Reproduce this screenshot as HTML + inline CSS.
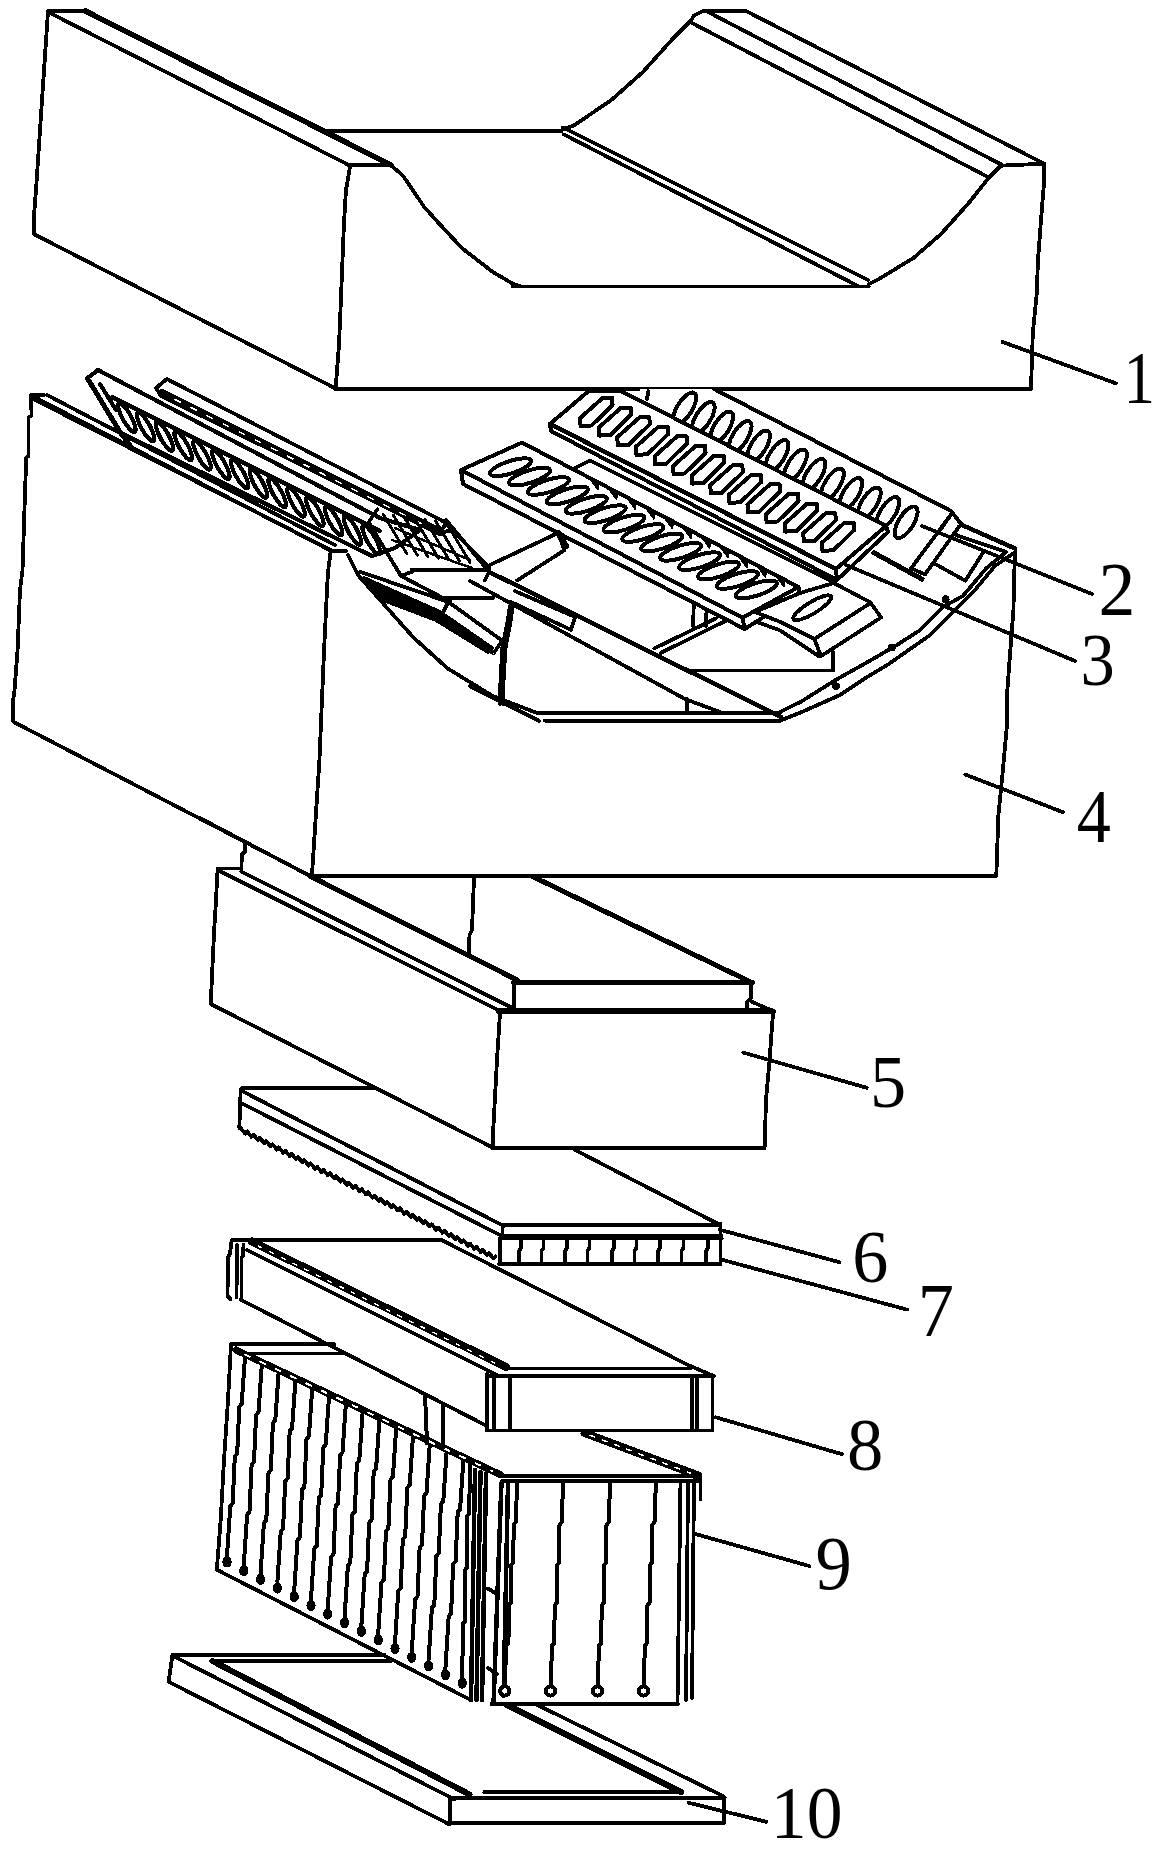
<!DOCTYPE html>
<html><head><meta charset="utf-8"><style>
html,body{margin:0;padding:0;background:#fff;}
svg{display:block;}
text{font-family:"Liberation Serif",serif;font-size:75px;fill:#000;}
</style></head><body>
<svg width="1162" height="1852" viewBox="0 0 1162 1852" shape-rendering="crispEdges">
<rect width="1162" height="1852" fill="#fff"/>
<g fill="none" stroke="#000" stroke-width="3.8" stroke-linejoin="round" stroke-linecap="round">
<g id="b1">
<path d="M48,11 L36,190 L34,216 L33.7,234 L335.6,388.5"/>
<path d="M48,11 H85.4"/>
<path d="M48,12 L348.7,165"/>
<path d="M85.4,11 L391,165" stroke-width="5.5"/>
<path d="M348.7,165.3 H391"/>
<path d="M350,167 L346,190 L344,222.7 L341,298 L339,345 L335.6,389"/>
<path d="M335.6,389 H1031"/>
<path d="M1044.2,164 L1044,183 L1041,220 L1038,260 L1036.7,294 L1032.8,333 L1031,389"/>
<path d="M1006.4,165.4 L1044.2,163.7"/>
<path d="M391,165.4 L403,175.7 L424,206.7 L437.7,222 L461.8,248 L492.8,272 L513.4,284 L520,286"/>
<path d="M513,286.5 H868.7"/>
<path d="M327.5,131 H561.6"/>
<path d="M563.4,129 L573.8,125.6 L611.6,99.8 L642.6,72.3 L673.6,37.9 L690.8,20.7 L694,15.5 L702.9,11 H745.9"/>
<path d="M745.9,11 L1044.2,163.7"/>
<path d="M708,12 L1003,165.4"/>
<path d="M690.8,22.4 L989,177.5"/>
<path d="M1003,165.4 L999.5,167 L989,177.5 L968.5,203.3 L941,234 L913.4,258 L879,279 L868.7,284.2"/>
<path d="M563,127.5 L868,280"/>
<path d="M564,134.5 L858,286"/>
<path d="M1002.4,341.9 L1116,383.4"/>
</g>
<g id="b4">
<path d="M31,395 H44"/>
<path d="M31,395 L31.6,415.6 L28.5,417.2 L28.5,456 L26.2,458 L24.5,508.5 L22.5,570 L20,590 L17.6,650 L14.5,690 L13.2,700 L13.2,721.7 L310.5,876"/>
<path d="M34,399.4 L330.7,550"/>
<path d="M330.7,551 H346"/>
<path d="M330.7,551 L328,572 L327,590 L324,651.5 L319.5,759 L312,875"/>
<path d="M311,875.8 H996"/>
<path d="M1015.6,551 L1014.5,565.8 L1013.4,611 L1010.2,651.9 L1007,694.9 L1007,725 L1002.9,770 L998.4,815 L996.3,875.8"/>
<path d="M965.2,774.5 L1063,812.2"/>
<path d="M1015.6,552 L995.1,565.8 L973.6,591.6 L952.1,613.1 L930.6,634.7 L909.1,649.7 L887.6,664.8 L866.1,677.7 L840.2,694.9 L801.5,712.1 L780,720.7"/>
<path d="M1006,552 L986.5,568 L962.9,596 L943.5,606.7 L919.8,630.4 L896.2,645.4 L870.4,660.5 L835.9,679.8 L801.5,701.4 L780,712.1"/>
<path d="M348,555 L358.5,575.7 L386,606.7 L413.6,637.7 L448,668.7 L492.8,696 L537.5,713.2 L780,713.2"/>
<path d="M545,720.7 H780"/>
<circle cx="945.7" cy="599.2" r="2" fill="#000"/><circle cx="891.9" cy="647.6" r="2" fill="#000"/><circle cx="836" cy="686.3" r="2" fill="#000"/>
</g>
<!-- PLATES RIGHT -->
<g id="cavity">
<path d="M489,571.8 L781,717" stroke-width="4.5"/>
<path d="M470,581 L685,699 L720,712"/>
<path d="M687,699 V713"/>
<path d="M509.8,606.7 L507.6,621.8 L502.3,647.6 L500,690.6 L500,704"/>
<path d="M512.5,607 L510.5,622 L505.5,648 L503,691 L503,704"/>

<path d="M515,591.1 L575.3,617 L571,629.8 L510.7,601.9"/>
<path d="M689,670.5 H833 V652"/>
<path d="M654.1,648.5 L716,618.4 M661,652.8 L727.2,620.1"/>
<path d="M693.8,604.5 L693,626 M706.7,604 L706,626"/>
<path d="M470,686.3 L538.8,720.7"/>
</g>
<g id="backplate" fill="#fff" stroke-width="4">
<path d="M640,389 L714,389 L951,511 L962,525 L925,574.5 L911,568 L880,540 L640,405 Z" stroke="none"/>
<path d="M714,389 L951,511 L962,525 M951.4,514 L940,530"/>
<path d="M648.4,391.2 L646.9,399"/>
<ellipse cx="684.7" cy="408.3" rx="18" ry="7.5" transform="rotate(-58 684.7 408.3)"/>
<ellipse cx="703.2" cy="417.8" rx="18" ry="7.5" transform="rotate(-58 703.2 417.8)"/>
<ellipse cx="721.6" cy="427.3" rx="18" ry="7.5" transform="rotate(-58 721.6 427.3)"/>
<ellipse cx="740.1" cy="436.8" rx="18" ry="7.5" transform="rotate(-58 740.1 436.8)"/>
<ellipse cx="758.5" cy="446.3" rx="18" ry="7.5" transform="rotate(-58 758.5 446.3)"/>
<ellipse cx="777.0" cy="455.8" rx="18" ry="7.5" transform="rotate(-58 777.0 455.8)"/>
<ellipse cx="795.4" cy="465.3" rx="18" ry="7.5" transform="rotate(-58 795.4 465.3)"/>
<ellipse cx="813.9" cy="474.8" rx="18" ry="7.5" transform="rotate(-58 813.9 474.8)"/>
<ellipse cx="832.3" cy="484.3" rx="18" ry="7.5" transform="rotate(-58 832.3 484.3)"/>
<ellipse cx="850.8" cy="493.8" rx="18" ry="7.5" transform="rotate(-58 850.8 493.8)"/>
<ellipse cx="869.2" cy="503.3" rx="18" ry="7.5" transform="rotate(-58 869.2 503.3)"/>
<ellipse cx="887.7" cy="512.8" rx="18" ry="7.5" transform="rotate(-58 887.7 512.8)"/>
<ellipse cx="906.1" cy="522.3" rx="18" ry="7.5" transform="rotate(-58 906.1 522.3)"/>
</g>
<g id="plate2" fill="#fff" stroke-width="4">
<path d="M550,424 L588,391.5 L620,390.5 L886,526 L836,569 Z"/>
<path d="M550,424 L836,569 L837,580 L551,431 Z"/>
<path d="M550,424 L836,569" stroke-width="4.5"/>
<path d="M886,526 L888,532 L837,580 L836,569 Z"/>
<path d="M602.6,398.0 L612.1,398.0 L612.6,405.0 L591.6,425.5 L580.6,426.0 L580.1,418.0 Z"/>
<path d="M621.2,407.6 L630.7,407.6 L631.2,414.6 L610.2,435.1 L599.2,435.6 L598.7,427.6 Z"/>
<path d="M639.8,417.2 L649.3,417.2 L649.8,424.2 L628.8,444.7 L617.8,445.2 L617.3,437.2 Z"/>
<path d="M658.4,426.8 L667.9,426.8 L668.4,433.8 L647.4,454.3 L636.4,454.8 L635.9,446.8 Z"/>
<path d="M677.0,436.4 L686.5,436.4 L687.0,443.4 L666.0,463.9 L655.0,464.4 L654.5,456.4 Z"/>
<path d="M695.6,446.0 L705.1,446.0 L705.6,453.0 L684.6,473.5 L673.6,474.0 L673.1,466.0 Z"/>
<path d="M714.2,455.6 L723.7,455.6 L724.2,462.6 L703.2,483.1 L692.2,483.6 L691.7,475.6 Z"/>
<path d="M732.8,465.2 L742.3,465.2 L742.8,472.2 L721.8,492.7 L710.8,493.2 L710.3,485.2 Z"/>
<path d="M751.4,474.8 L760.9,474.8 L761.4,481.8 L740.4,502.3 L729.4,502.8 L728.9,494.8 Z"/>
<path d="M770.0,484.4 L779.5,484.4 L780.0,491.4 L759.0,511.9 L748.0,512.4 L747.5,504.4 Z"/>
<path d="M788.6,494.0 L798.1,494.0 L798.6,501.0 L777.6,521.5 L766.6,522.0 L766.1,514.0 Z"/>
<path d="M807.2,503.6 L816.7,503.6 L817.2,510.6 L796.2,531.1 L785.2,531.6 L784.7,523.6 Z"/>
<path d="M825.8,513.2 L835.3,513.2 L835.8,520.2 L814.8,540.7 L803.8,541.2 L803.3,533.2 Z"/>
<path d="M844.4,522.8 L853.9,522.8 L854.4,529.8 L833.4,550.3 L822.4,550.8 L821.9,542.8 Z"/>
</g>
<g id="p2bracket">
<path d="M874,552.8 L922,579.1" stroke-width="5"/>
<path d="M951.4,514 L911.1,568.3 L925,574.5"/>
<path d="M959.1,526.5 L925,574.5"/>
<path d="M934.4,563.6 L965.3,580.7"/>
<path d="M983.9,551.3 L965.3,580.7"/>
<path d="M962,525 L1015,548.5" stroke-width="4.5"/>
<path d="M956,535 L1006,552"/>
</g><g id="strip">
<path d="M590,460.5 L835,583"/>
<path d="M575,468 L590,460.5"/>
</g>
<g id="plate3" fill="#fff" stroke-width="4">
<path d="M461,470 L522,442.6 L798.5,587 L742.5,617.7 Z"/>
<path d="M461,470 L742.5,617.7 L744.7,629 L463,484 Z"/>
<path d="M798.5,587 L800,594 L744.7,629 L742.5,617.7 Z"/>
<ellipse cx="510.6" cy="467.2" rx="21.5" ry="6.2" transform="rotate(-18 510.6 467.2)"/>
<ellipse cx="529.5" cy="476.6" rx="21.5" ry="6.2" transform="rotate(-18 529.5 476.6)"/>
<ellipse cx="548.4" cy="486.0" rx="21.5" ry="6.2" transform="rotate(-18 548.4 486.0)"/>
<ellipse cx="567.3" cy="495.4" rx="21.5" ry="6.2" transform="rotate(-18 567.3 495.4)"/>
<ellipse cx="586.2" cy="504.8" rx="21.5" ry="6.2" transform="rotate(-18 586.2 504.8)"/>
<ellipse cx="605.1" cy="514.2" rx="21.5" ry="6.2" transform="rotate(-18 605.1 514.2)"/>
<ellipse cx="624.0" cy="523.6" rx="21.5" ry="6.2" transform="rotate(-18 624.0 523.6)"/>
<ellipse cx="642.9" cy="533.0" rx="21.5" ry="6.2" transform="rotate(-18 642.9 533.0)"/>
<ellipse cx="661.8" cy="542.4" rx="21.5" ry="6.2" transform="rotate(-18 661.8 542.4)"/>
<ellipse cx="680.7" cy="551.8" rx="21.5" ry="6.2" transform="rotate(-18 680.7 551.8)"/>
<ellipse cx="699.6" cy="561.2" rx="21.5" ry="6.2" transform="rotate(-18 699.6 561.2)"/>
<ellipse cx="718.5" cy="570.6" rx="21.5" ry="6.2" transform="rotate(-18 718.5 570.6)"/>
<ellipse cx="737.4" cy="580.0" rx="21.5" ry="6.2" transform="rotate(-18 737.4 580.0)"/>
<ellipse cx="756.3" cy="589.4" rx="21.5" ry="6.2" transform="rotate(-18 756.3 589.4)"/>
</g>
<path d="M589.0,477.6 L599.0,482.8 L598.0,489.8 Z M607.6,487.3 L617.6,492.5 L616.6,499.5 Z M626.2,497.0 L636.2,502.2 L635.2,509.2 Z M644.8,506.7 L654.8,511.9 L653.8,518.9 Z M663.4,516.4 L673.4,521.6 L672.4,528.6 Z M682.0,526.2 L692.0,531.4 L691.0,538.4 Z M700.6,535.9 L710.6,541.1 L709.6,548.1 Z M719.2,545.6 L729.2,550.8 L728.2,557.8 Z M737.8,555.3 L747.8,560.5 L746.8,567.5 Z M756.4,565.0 L766.4,570.2 L765.4,577.2 Z M775.0,574.7 L785.0,579.9 L784.0,586.9 Z" fill="#000" stroke-width="1.5"/>
<g id="plate3b" fill="#fff">
<path d="M755,612 L780,621.8 L814.4,639 L820.9,656.2 L881.1,617.5 L870.4,602.4 L833.8,583 L800,593 Z"/>
<path d="M757,622 L780,630.4 L818.7,656.2"/>
<path d="M814.4,639 L868.2,604.5"/>
<ellipse cx="812.2" cy="607.8" rx="22" ry="5.8" transform="rotate(-31.4 812.2 607.8)"/>
</g><!-- PLATES LEFT -->
<g id="plateA" fill="#fff" stroke-width="4.2">
<path d="M98,370 L87.4,378.2 L120.3,432.5 L372,556 L395,548 L420,530 L380,518 L98,370 Z"/>
<path d="M87.4,378.2 L120.3,432.5 L130,445" stroke-width="5"/>
<path d="M100,384 L116,410"/>
<path d="M112,397 L380,531"/>
<ellipse cx="126.8" cy="417.5" rx="16.4" ry="4.3" transform="rotate(60.9 126.8 417.5)"/>
<ellipse cx="145.6" cy="426.9" rx="16.4" ry="4.3" transform="rotate(60.9 145.6 426.9)"/>
<ellipse cx="164.4" cy="436.3" rx="16.4" ry="4.3" transform="rotate(60.9 164.4 436.3)"/>
<ellipse cx="183.2" cy="445.7" rx="16.4" ry="4.3" transform="rotate(60.9 183.2 445.7)"/>
<ellipse cx="202.0" cy="455.1" rx="16.4" ry="4.3" transform="rotate(60.9 202.0 455.1)"/>
<ellipse cx="220.8" cy="464.5" rx="16.4" ry="4.3" transform="rotate(60.9 220.8 464.5)"/>
<ellipse cx="239.6" cy="473.9" rx="16.4" ry="4.3" transform="rotate(60.9 239.6 473.9)"/>
<ellipse cx="258.4" cy="483.3" rx="16.4" ry="4.3" transform="rotate(60.9 258.4 483.3)"/>
<ellipse cx="277.2" cy="492.7" rx="16.4" ry="4.3" transform="rotate(60.9 277.2 492.7)"/>
<ellipse cx="296.0" cy="502.1" rx="16.4" ry="4.3" transform="rotate(60.9 296.0 502.1)"/>
<ellipse cx="314.8" cy="511.5" rx="16.4" ry="4.3" transform="rotate(60.9 314.8 511.5)"/>
<ellipse cx="333.6" cy="520.9" rx="16.4" ry="4.3" transform="rotate(60.9 333.6 520.9)"/>
<ellipse cx="352.4" cy="530.3" rx="16.4" ry="4.3" transform="rotate(60.9 352.4 530.3)"/>
<ellipse cx="371.2" cy="539.7" rx="16.4" ry="4.3" transform="rotate(60.9 371.2 539.7)"/>
</g>
<path d="M32.5,396 L329.5,550"/>
<path d="M47,395 L335,545"/>
<g id="plateB" fill="#fff">
<path d="M166.8,379 L443.7,521.5 L452,530 L440,533 L161,396 L156,388 Z"/>
<path d="M162,393 L440,532" stroke-width="8"/>
<path d="M175,399.5 L430,528" stroke="#fff" stroke-width="1.5" stroke-dasharray="6 12"/>
<path d="M443.7,521.5 L489.3,567.9"/>
</g>
<g id="hinge">
<path d="M446.2,520.1 L489.2,571.8 L484.9,580.4"/>
<path d="M446.2,523 L439.7,533"/>
<path d="M377.3,509.4 L368.7,522.3 L401,576 L411.8,571.8"/>
<path d="M412,569.6 H489"/>
<path d="M383.0,514.0 L407.0,554.0 M393.5,515.4 L417.5,555.4 M404.0,516.8 L428.0,556.8 M414.5,518.2 L438.5,558.2 M425.0,519.6 L449.0,559.6 M435.5,521.0 L459.5,561.0 M446.0,522.4 L470.0,562.4" stroke-width="3"/>
<path d="M395,528 L470,560 M392,540 L472,568" stroke-width="2.5"/>
<path d="M360.1,571.8 L448.3,601.9 L502.1,640.6 L493.5,653.5 L441.9,614.8 L448.3,601.9"/>
<path d="M364,578 L440,612 L492,648 L488,652 L436,620 L378,598 Z" fill="#000"/>
<path d="M401,576 L450.5,601.9"/>
<path d="M439.7,597.6 H493.5"/>
<path d="M489.2,565.3 L558,533 L564.5,550.2 L517.2,580.4"/>
<path d="M558,533 L566,546" stroke-width="6"/>
</g>
<g id="p5">
<path d="M200,818 L310,876"/>
<path d="M310,876 L517,980" stroke-width="5"/>
<path d="M245.4,842.7 L245,852 L242,854 L241.3,869"/>
<path d="M474,878.5 L472,930 L469.5,935 L468.8,954.2"/>
<path d="M218,868.5 H241.3"/>
<path d="M218,868.5 L217.5,871.6 L216,900 L214,933.6 L210.7,1004 L492.6,1147.5"/>
<path d="M220.7,871.6 L500,1011"/>
<path d="M241.3,871.6 L513.9,1008.7"/>
<path d="M513.9,982.3 H752" stroke-width="5.5"/>
<path d="M499,1011.2 H773" stroke-width="5.5"/>
<path d="M513.9,980 V1010"/>
<path d="M750.7,983 L750.7,998 L747.1,1002 L747.1,1011"/>
<path d="M752.3,1002 L768.8,1009.2 L773,1012"/>
<path d="M533,876.7 L751.3,982.3" stroke-width="5"/>
<path d="M500,1013.5 L497,1060 L492.8,1137.8 L492.6,1148.3 H764.6"/>
<path d="M773,1013.5 L771,1040 L769.6,1060 L766,1100 L764.6,1148"/>
<path d="M743.3,1052.6 L866.7,1087.8"/>
</g>
<g id="p6">
<path d="M242,1088.3 H377"/>
<path d="M242,1088.3 L240.7,1089.6 L239.3,1128.2"/>
<path d="M242,1091 L503.7,1226"/>
<path d="M242,1103.4 L501,1235.6"/>
<path d="M240.7,1128.2 L245.1,1133.6 L247.1,1131.4 L251.4,1136.8 L253.4,1134.6 L257.8,1140.0 L259.8,1137.8 L264.2,1143.2 L266.2,1141.0 L270.5,1146.4 L272.5,1144.2 L276.9,1149.6 L278.9,1147.4 L283.3,1152.8 L285.3,1150.6 L289.6,1156.0 L291.6,1153.8 L296.0,1159.2 L298.0,1157.0 L302.4,1162.4 L304.4,1160.2 L308.7,1165.6 L310.7,1163.4 L315.1,1168.8 L317.1,1166.6 L321.5,1172.0 L323.5,1169.8 L327.8,1175.2 L329.8,1173.0 L334.2,1178.4 L336.2,1176.2 L340.6,1181.6 L342.6,1179.4 L346.9,1184.8 L348.9,1182.6 L353.3,1188.0 L355.3,1185.8 L359.7,1191.2 L361.7,1189.0 L366.0,1194.5 L368.0,1192.2 L372.4,1197.7 L374.4,1195.5 L378.8,1200.9 L380.8,1198.7 L385.2,1204.1 L387.2,1201.9 L391.5,1207.3 L393.5,1205.1 L397.9,1210.5 L399.9,1208.3 L404.3,1213.7 L406.3,1211.5 L410.6,1216.9 L412.6,1214.7 L417.0,1220.1 L419.0,1217.9 L423.4,1223.3 L425.4,1221.1 L429.7,1226.5 L431.7,1224.3 L436.1,1229.7 L438.1,1227.5 L442.5,1232.9 L444.5,1230.7 L448.8,1236.1 L450.8,1233.9 L455.2,1239.3 L457.2,1237.1 L461.6,1242.5 L463.6,1240.3 L467.9,1245.7 L469.9,1243.5 L474.3,1248.9 L476.3,1246.7 L480.7,1252.1 L482.7,1249.9 L487.0,1255.3 L489.0,1253.1 L493.4,1258.5 L495.4,1256.3"/>
<path d="M574.9,1149.9 L719.6,1224.7"/>
<path d="M504.6,1225 H720.5"/>
<path d="M501.3,1235.8 H721.7"/>
<path d="M500,1238.5 H721.7"/>
<path d="M499,1263.8 H720.5"/>
<path d="M502.4,1225 V1236 M500,1238 V1264"/>
<path d="M720.5,1224 V1264"/>
<path d="M719.6,1229.7 L839.5,1262.2"/>
<path d="M721.7,1259.7 L906.9,1309.6"/>
<path d="M521.0,1239 L521.0,1248 L519.0,1251 L519.0,1263"/>
<path d="M543.5,1239 L543.5,1248 L541.5,1251 L541.5,1263"/>
<path d="M567.0,1239 L567.0,1248 L565.0,1251 L565.0,1263"/>
<path d="M589.4,1239 L589.4,1248 L587.4,1251 L587.4,1263"/>
<path d="M614.0,1239 L614.0,1248 L612.0,1251 L612.0,1263"/>
<path d="M636.4,1239 L636.4,1248 L634.4,1251 L634.4,1263"/>
<path d="M660.0,1239 L660.0,1248 L658.0,1251 L658.0,1263"/>
<path d="M683.4,1239 L683.4,1248 L681.4,1251 L681.4,1263"/>
<path d="M708.0,1239 L708.0,1248 L706.0,1251 L706.0,1263"/>
</g>
<g id="p8">
<path d="M252,1241.5 L506,1367" stroke-width="8"/>
<path d="M258,1246 L500,1365.5" stroke="#fff" stroke-width="1.4" stroke-dasharray="4 9"/>
<path d="M247,1250 L500,1376.5"/>
<path d="M231.6,1240.3 H442"/>
<path d="M231.6,1240.3 L230,1254 L228,1257 L227.5,1296 L230.5,1299"/>
<path d="M237,1245 L236.5,1297"/>
<path d="M243.5,1245 L243,1256 L241.5,1258 L241.5,1299"/>
<path d="M240.7,1299.7 L487,1426"/>
<path d="M442,1240.3 L690,1366"/>
<path d="M505.8,1368.4 H690.5"/>
<path d="M487.8,1376 H713.7" stroke-width="4"/>
<path d="M486.5,1430.4 H712.4"/>
<path d="M487,1374 V1430 M494,1376 V1430 M509.7,1376 V1430"/>
<path d="M691.7,1376 V1430 M697,1376 V1430 M712.4,1376 V1430"/>
<path d="M690.5,1366 L713.7,1376"/>
<path d="M715.5,1417.2 L842,1454.2"/>
</g>
<g id="p9">
<path d="M231,1344.2 H334.3"/>
<path d="M238.7,1353.5 H344.6"/>
<path d="M231,1344.2 L228,1400 L224,1460 L220.7,1520 L216.8,1569.7 L468.5,1698.8"/>
<path d="M236,1350 L500,1474.5" stroke-width="7"/>
<path d="M584.6,1433 L698.2,1475.5" stroke-width="8"/>
<path d="M590,1435.3 L690,1473" stroke="#fff" stroke-width="1.5" stroke-dasharray="5 8"/>
<path d="M440,1445.9 L502,1474.3"/>
<path d="M501.4,1476.4 H700.5" stroke-width="4"/>
<path d="M501.4,1481.3 H700.5"/>
<path d="M700.5,1476.9 V1499"/>
<path d="M680.5,1482 L677.5,1704 M688,1481 L686,1700 M694,1480 L692,1698"/>
<path d="M491.3,1704 H678.2"/>
<path d="M508,1483.6 L503.6,1696 M501.4,1483.6 L493.6,1703" stroke-width="4.5"/>
<path d="M695,1533.9 L809.3,1566"/>
</g>
<!-- PART 9 DETAIL -->
<g id="p9d" stroke-width="4">
<path d="M245.0,1357.2 L241.7,1403.9 L239.3,1406.9 L237.2,1453.6 L234.8,1456.6 L232.7,1503.3 L230.3,1506.3 L227.0,1556.0"/>
<path d="M261.8,1365.1 L258.5,1412.0 L256.1,1415.0 L254.0,1461.9 L251.6,1464.9 L249.5,1511.8 L247.1,1514.8 L243.8,1564.7"/>
<path d="M278.6,1373.0 L275.3,1420.1 L272.9,1423.1 L270.8,1470.2 L268.4,1473.2 L266.3,1520.2 L263.9,1523.2 L260.6,1573.3"/>
<path d="M295.4,1380.9 L292.1,1428.2 L289.7,1431.2 L287.6,1478.4 L285.2,1481.4 L283.1,1528.7 L280.7,1531.7 L277.4,1582.0"/>
<path d="M312.2,1388.8 L308.9,1436.3 L306.5,1439.3 L304.4,1486.7 L302.0,1489.7 L299.9,1537.2 L297.5,1540.2 L294.2,1590.6"/>
<path d="M329.0,1396.7 L325.7,1444.4 L323.3,1447.4 L321.2,1495.0 L318.8,1498.0 L316.7,1545.7 L314.3,1548.7 L311.0,1599.3"/>
<path d="M345.8,1404.6 L342.5,1452.4 L340.1,1455.4 L338.0,1503.3 L335.6,1506.3 L333.5,1554.1 L331.1,1557.1 L327.8,1608.0"/>
<path d="M362.6,1412.5 L359.3,1460.5 L356.9,1463.5 L354.8,1511.6 L352.4,1514.6 L350.3,1562.6 L347.9,1565.6 L344.6,1616.6"/>
<path d="M379.4,1420.4 L376.1,1468.6 L373.7,1471.6 L371.6,1519.8 L369.2,1522.8 L367.1,1571.1 L364.7,1574.1 L361.4,1625.3"/>
<path d="M396.2,1428.3 L392.9,1476.7 L390.5,1479.7 L388.4,1528.1 L386.0,1531.1 L383.9,1579.5 L381.5,1582.5 L378.2,1633.9"/>
<path d="M413.0,1436.2 L409.7,1484.8 L407.3,1487.8 L405.2,1536.4 L402.8,1539.4 L400.7,1588.0 L398.3,1591.0 L395.0,1642.6"/>
<path d="M429.8,1444.1 L426.5,1492.9 L424.1,1495.9 L422.0,1544.7 L419.6,1547.7 L417.5,1596.5 L415.1,1599.5 L411.8,1651.3"/>
<path d="M446.6,1452.0 L443.3,1501.0 L440.9,1504.0 L438.8,1553.0 L436.4,1556.0 L434.3,1604.9 L431.9,1607.9 L428.6,1659.9"/>
<path d="M463.4,1459.9 L460.1,1509.1 L457.7,1512.1 L455.6,1561.2 L453.2,1564.2 L451.1,1613.4 L448.7,1616.4 L445.4,1668.6"/>
<path d="M470.0,1463.0 L469.2,1513.5 L466.9,1516.5 L467.3,1567.1 L464.9,1570.1 L465.4,1620.7 L463.0,1623.7 L462.2,1677.2"/>
<ellipse cx="227.0" cy="1562.0" rx="2.6" ry="3.6" fill="#000"/>
<ellipse cx="243.8" cy="1570.7" rx="2.6" ry="3.6" fill="#000"/>
<ellipse cx="260.6" cy="1579.3" rx="2.6" ry="3.6" fill="#000"/>
<ellipse cx="277.4" cy="1588.0" rx="2.6" ry="3.6" fill="#000"/>
<ellipse cx="294.2" cy="1596.6" rx="2.6" ry="3.6" fill="#000"/>
<ellipse cx="311.0" cy="1605.3" rx="2.6" ry="3.6" fill="#000"/>
<ellipse cx="327.8" cy="1614.0" rx="2.6" ry="3.6" fill="#000"/>
<ellipse cx="344.6" cy="1622.6" rx="2.6" ry="3.6" fill="#000"/>
<ellipse cx="361.4" cy="1631.3" rx="2.6" ry="3.6" fill="#000"/>
<ellipse cx="378.2" cy="1639.9" rx="2.6" ry="3.6" fill="#000"/>
<ellipse cx="395.0" cy="1648.6" rx="2.6" ry="3.6" fill="#000"/>
<ellipse cx="411.8" cy="1657.3" rx="2.6" ry="3.6" fill="#000"/>
<ellipse cx="428.6" cy="1665.9" rx="2.6" ry="3.6" fill="#000"/>
<ellipse cx="445.4" cy="1674.6" rx="2.6" ry="3.6" fill="#000"/>
<ellipse cx="462.2" cy="1683.2" rx="2.6" ry="3.6" fill="#000"/>
<path d="M245,1354.5 L492,1471" stroke="#fff" stroke-width="2" stroke-dasharray="5 12"/>
<path d="M425,1394 L427,1443 M442.7,1405 L442.7,1448"/>
<path d="M475,1470 L471,1700 M480.5,1472 L476.5,1700 M486,1474 L482,1700" stroke-width="4.5"/>
<path d="M488,1588.7 L497,1594 M488,1668 L497,1674"/>
<path d="M517.0,1483.6 L515.9,1521.9 L513.6,1524.9 L513.4,1562.2 L511.1,1565.2 L511.0,1602.4 L508.7,1605.4 L508.5,1642.7 L506.2,1645.7 L504.8,1685.0"/>
<circle cx="504.8" cy="1691.0" r="4.6" fill="#fff"/>
<path d="M563.0,1483.6 L561.8,1521.9 L559.5,1524.9 L559.3,1562.2 L557.0,1565.2 L556.9,1602.4 L554.6,1605.4 L554.4,1642.7 L552.1,1645.7 L550.6,1685.0"/>
<circle cx="550.6" cy="1691.0" r="4.6" fill="#fff"/>
<path d="M610.0,1483.6 L608.8,1521.9 L606.5,1524.9 L606.3,1562.2 L604.0,1565.2 L603.9,1602.4 L601.6,1605.4 L601.4,1642.7 L599.1,1645.7 L597.6,1685.0"/>
<circle cx="597.6" cy="1691.0" r="4.6" fill="#fff"/>
<path d="M655.8,1483.6 L654.6,1521.9 L652.3,1524.9 L652.2,1562.2 L649.9,1565.2 L649.7,1602.4 L647.4,1605.4 L647.3,1642.7 L645.0,1645.7 L643.5,1685.0"/>
<circle cx="643.5" cy="1691.0" r="4.6" fill="#fff"/>
</g>
<g id="p10">
<path d="M172.5,1654.6 H384.6"/>
<path d="M217,1660.6 H392"/>
<path d="M172.5,1654.6 L169,1679.6 L169,1682 L449.5,1824.4"/>
<path d="M175,1657 L454.5,1799.4"/>
<path d="M212.4,1661 L469.5,1794.4" stroke-width="6"/>
<path d="M452.2,1797.9 H724.8"/>
<path d="M448.4,1823.3 H723"/>
<path d="M724,1797.9 V1823.3 M450.3,1797.9 V1823.3"/>
<path d="M484.4,1792.2 H681.3" stroke-width="4"/>
<path d="M537.4,1705 L723,1796"/>
<path d="M507,1705 L681.3,1792.2" stroke-width="6"/>
<path d="M688.8,1802.8 L766.5,1821.8"/>
</g>
<g id="leaders">
<path d="M922,526 L1092,594"/>
<path d="M846,565 L1075,661"/>
</g>
</g>
<!-- LABELS -->
<g>
<text transform="translate(1123.4,403.0) scale(0.845,1)" style="font-size:74.4px">1</text>
<text transform="translate(1098.5,614.8) scale(0.969,1)" style="font-size:76.1px">2</text>
<text transform="translate(1080.6,684.5) scale(0.929,1)" style="font-size:73.7px">3</text>
<text transform="translate(1076.8,842.3) scale(0.901,1)" style="font-size:75.7px">4</text>
<text transform="translate(869.9,1106.6) scale(0.970,1)" style="font-size:74.6px">5</text>
<text transform="translate(852.3,1282.3) scale(0.968,1)" style="font-size:74.6px">6</text>
<text transform="translate(917.8,1335.7) scale(0.942,1)" style="font-size:76.8px">7</text>
<text transform="translate(847.0,1469.9) scale(0.985,1)" style="font-size:73.7px">8</text>
<text transform="translate(815.5,1589.4) scale(0.963,1)" style="font-size:75.4px">9</text>
<text transform="translate(770.8,1838.3) scale(0.966,1)" style="font-size:74.2px">10</text>
</g>
</svg>
</body></html>
